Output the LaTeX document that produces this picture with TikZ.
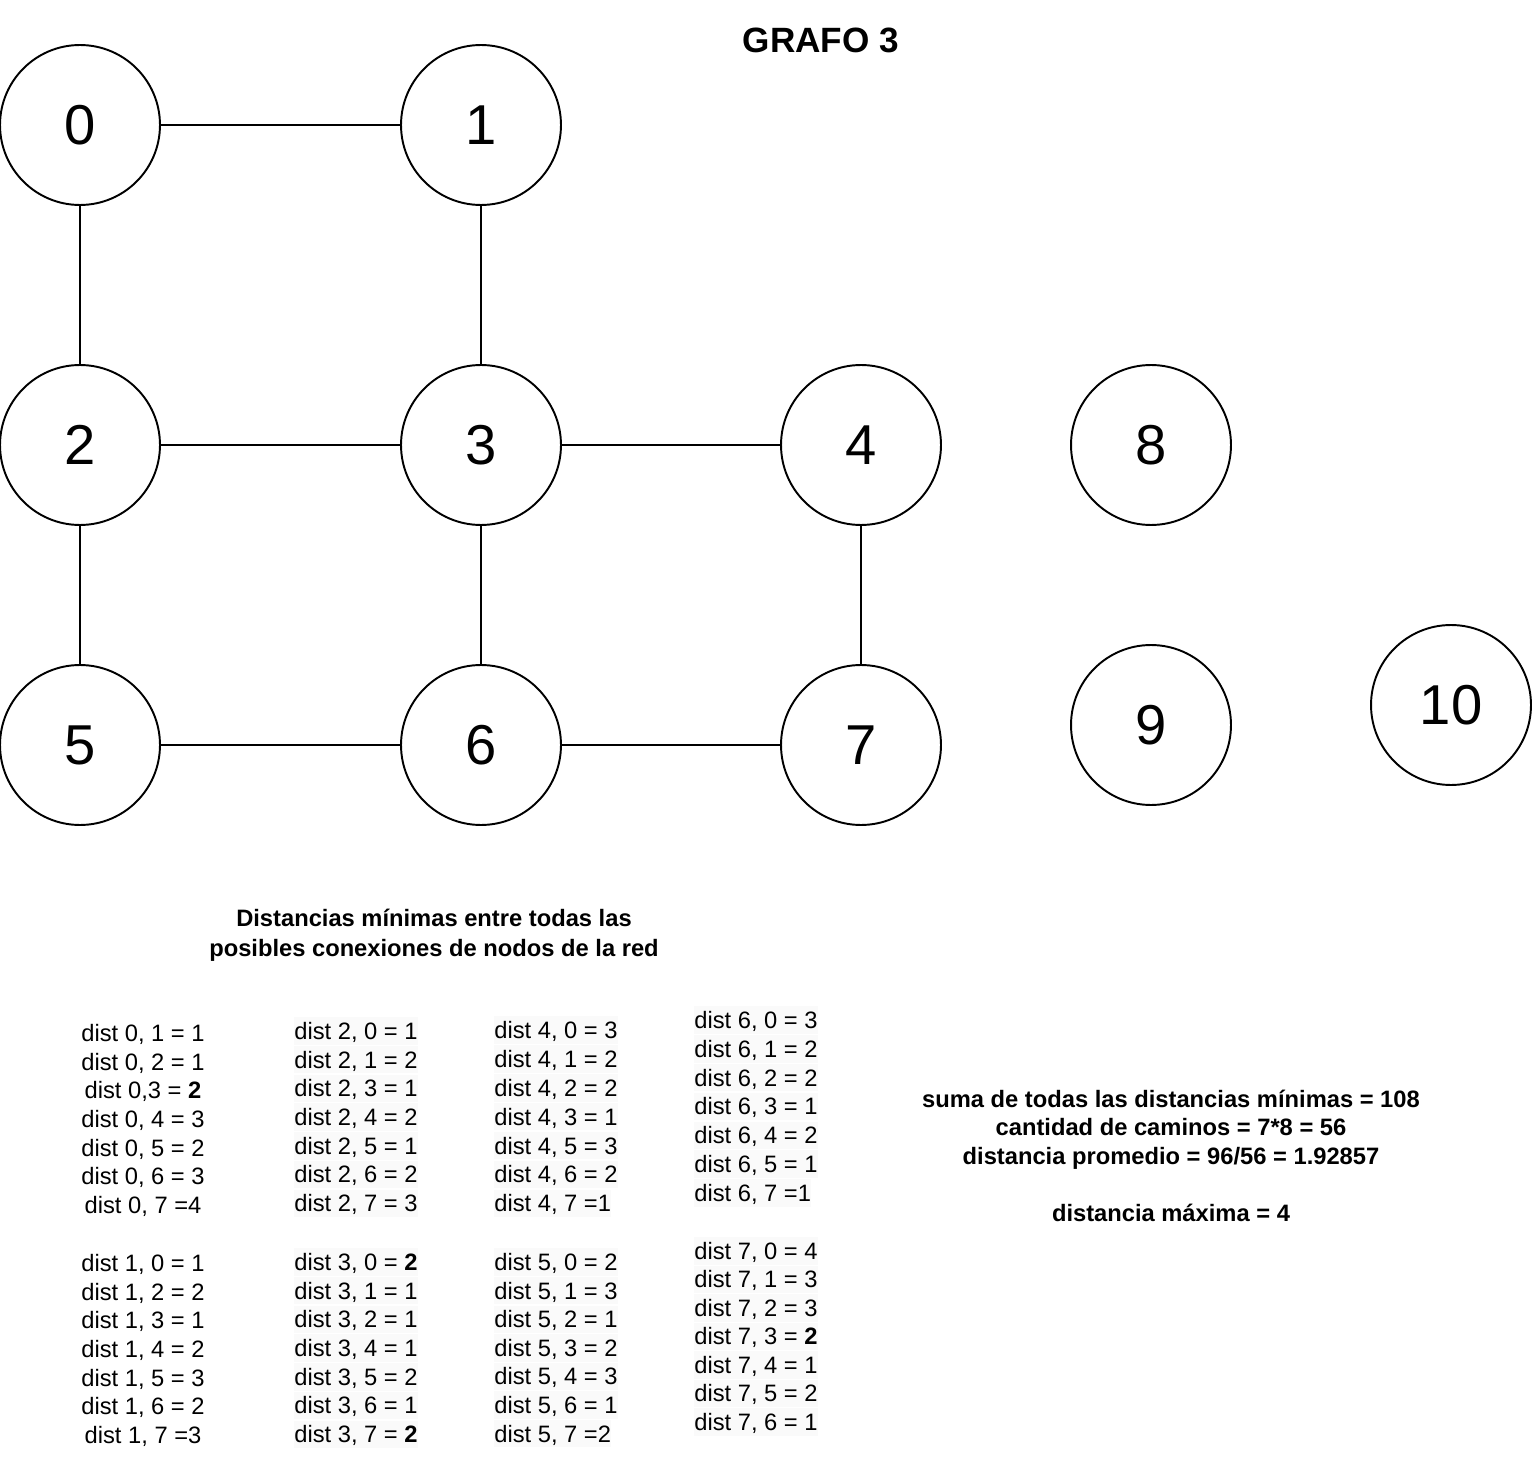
\documentclass[tikz,border=0pt]{standalone}
\usepackage{fontspec}
\setmainfont{Liberation Sans}
\usepackage{tikz}
\usetikzlibrary{backgrounds}

\begin{document}
\begin{tikzpicture}[x=0.02cm,y=-0.02cm,
  nodo/.style={circle,draw,line width=1.1pt,minimum size=3.2cm,inner sep=0pt,font=\fontsize{32}{38}\selectfont},
  arista/.style={line width=1.1pt},
  fila/.style={inner xsep=0pt,inner ysep=0.6pt,text height=12pt,text depth=2.4pt,font=\fontsize{13.5}{16.3}\selectfont},
  filagris/.style={fila,fill=black!2},
  titulo/.style={font=\bfseries\fontsize{13.5}{17}\selectfont,align=center}]
\useasboundingbox (0,0) rectangle (1532,1466);

\node[font=\bfseries\fontsize{20}{24}\selectfont] (tit) at (821,40) {GRAFO 3};

% nodos del grafo
\node[nodo] (n0) at (80,125) {0};
\node[nodo] (n1) at (481,125) {1};
\node[nodo] (n2) at (80,445) {2};
\node[nodo] (n3) at (481,445) {3};
\node[nodo] (n4) at (861,445) {4};
\node[nodo] (n8) at (1151,445) {8};
\node[nodo] (n5) at (80,745) {5};
\node[nodo] (n6) at (481,745) {6};
\node[nodo] (n7) at (861,745) {7};
\node[nodo] (n9) at (1151,725) {9};
\node[nodo] (n10) at (1451,705) {10};

\foreach \a/\b in {n0/n1,n0/n2,n1/n3,n2/n3,n3/n4,n2/n5,n3/n6,n4/n7,n5/n6,n6/n7}
  \draw[arista] (\a) -- (\b);

\node[titulo] (enc) at (434,935) {Distancias mínimas entre todas las\\posibles conexiones de nodos de la red};

% distancias
\foreach \t [count=\i] in {{dist 0, 1 = 1},{dist 0, 2 = 1},{dist 0,3 = \textbf{2}},{dist 0, 4 = 3},{dist 0, 5 = 2},{dist 0, 6 = 3},{dist 0, 7 =4}}
  \node[fila] (d0-\i) at (143,{1033+28.7*(\i-1)}) {\t};
\foreach \t [count=\i] in {{dist 1, 0 = 1},{dist 1, 2 = 2},{dist 1, 3 = 1},{dist 1, 4 = 2},{dist 1, 5 = 3},{dist 1, 6 = 2},{dist 1, 7 =3}}
  \node[fila] (d1-\i) at (143,{1263+28.7*(\i-1)}) {\t};
\foreach \t [count=\i] in {{dist 2, 0 = 1},{dist 2, 1 = 2},{dist 2, 3 = 1},{dist 2, 4 = 2},{dist 2, 5 = 1},{dist 2, 6 = 2},{dist 2, 7 = 3}}
  \node[filagris,anchor=west] (d2-\i) at (294,{1031+28.7*(\i-1)}) {\t};
\foreach \t [count=\i] in {{dist 3, 0 = \textbf{2}},{dist 3, 1 = 1},{dist 3, 2 = 1},{dist 3, 4 = 1},{dist 3, 5 = 2},{dist 3, 6 = 1},{dist 3, 7 = \textbf{2}}}
  \node[filagris,anchor=west] (d3-\i) at (294,{1262+28.7*(\i-1)}) {\t};
\foreach \t [count=\i] in {{dist 4, 0 = 3},{dist 4, 1 = 2},{dist 4, 2 = 2},{dist 4, 3 = 1},{dist 4, 5 = 3},{dist 4, 6 = 2},{dist 4, 7 =1}}
  \node[filagris,anchor=west] (d4-\i) at (494,{1030+28.9*(\i-1)}) {\t};
\foreach \t [count=\i] in {{dist 5, 0 = 2},{dist 5, 1 = 3},{dist 5, 2 = 1},{dist 5, 3 = 2},{dist 5, 4 = 3},{dist 5, 6 = 1},{dist 5, 7 =2}}
  \node[filagris,anchor=west] (d5-\i) at (494,{1262+28.6*(\i-1)}) {\t};
\foreach \t [count=\i] in {{dist 6, 0 = 3},{dist 6, 1 = 2},{dist 6, 2 = 2},{dist 6, 3 = 1},{dist 6, 4 = 2},{dist 6, 5 = 1},{dist 6, 7 =1}}
  \node[filagris,anchor=west] (d6-\i) at (694,{1020+28.8*(\i-1)}) {\t};
\foreach \t [count=\i] in {{dist 7, 0 = 4},{dist 7, 1 = 3},{dist 7, 2 = 3},{dist 7, 3 = \textbf{2}},{dist 7, 4 = 1},{dist 7, 5 = 2},{dist 7, 6 = 1}}
  \node[filagris,anchor=west] (d7-\i) at (694,{1251+28.5*(\i-1)}) {\t};

\node[titulo,font=\bfseries\fontsize{13.5}{16.3}\selectfont] (res) at (1171,1156) {suma de todas las distancias mínimas = 108\\cantidad de caminos = 7*8 = 56\\distancia promedio = 96/56 = 1.92857\\[16.3pt]distancia máxima = 4};
\end{tikzpicture}
\end{document}
